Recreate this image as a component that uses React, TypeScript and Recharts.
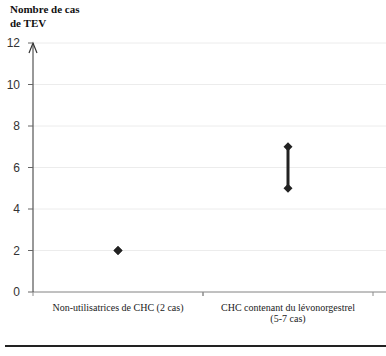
import {
  ComposedChart,
  Bar,
  Line,
  XAxis,
  YAxis,
  CartesianGrid,
  ReferenceLine,
} from 'recharts';

// Catégories et valeurs
const categories = ['Non-utilisatrices de CHC (2 cas)', 'CHC contenant du lévonorgestrel (5-7 cas)'];
const categoryLines = [
  ['Non-utilisatrices de CHC (2 cas)'],
  ['CHC contenant du lévonorgestrel', '(5-7 cas)'],
];
const lowValues = [2, 5];
const highValues = [2, 7];
const yTicks = [0, 2, 4, 6, 8, 10, 12];

const data = categories.map((name, i) => ({
  name,
  low: lowValues[i],
  high: highValues[i],
  range: [lowValues[i], highValues[i]],
}));

const INK = '#222';
const SERIF = 'Liberation Serif, Times New Roman, Times, serif';
const EXTRA_RIGHT = 13;

const Diamond = (props: any) => {
  const { cx, cy } = props;
  if (cx == null || cy == null) return null;
  const r = 4.5;
  return (
    <path
      d={`M${cx},${cy - r} L${cx + r},${cy} L${cx},${cy + r} L${cx - r},${cy} Z`}
      fill={INK}
    />
  );
};

const RangeShape = (props: any) => {
  const { x, y, width, height } = props;
  if (!height) return null;
  const cx = x + width / 2;
  return <line x1={cx} x2={cx} y1={y} y2={y + height} stroke={INK} strokeWidth={3} />;
};

const XTick = (props: any) => {
  const { x, y, payload } = props;
  const half = payload.offset || 0;
  const lines = categoryLines[payload.index] || [payload.value];
  return (
    <g>
      <line x1={x - half} x2={x - half} y1={y} y2={y + 4} stroke="#8c8c8c" />
      <line x1={x + half} x2={x + half} y1={y} y2={y + 4} stroke="#8c8c8c" />
      <text x={x} y={y + 19} textAnchor="middle" style={{ fontFamily: SERIF }} fontSize={10} fill={INK}>
        {lines.map((l: string, i: number) => (
          <tspan key={i} x={x} dy={i === 0 ? 0 : 11}>
            {l}
          </tspan>
        ))}
      </text>
    </g>
  );
};

export default function App() {
  return (
    <div style={{ position: 'absolute', left: 0, top: 0, width: 386, height: 356, background: '#fff' }}>
      <div
        style={{
          position: 'absolute',
          left: 10,
          top: 2,
          fontFamily: SERIF,
          fontWeight: 'bold',
          fontSize: 11,
          lineHeight: '14px',
          color: '#111',
        }}
      >
        Nombre de cas
        <br />
        de TEV
      </div>
      <ComposedChart
        width={386}
        height={356}
        data={data}
        margin={{ top: 43, right: EXTRA_RIGHT, left: 0, bottom: 34 }}
      >
        <CartesianGrid
          vertical={false}
          horizontal={(p: any) => (
            <line key={p.key} x1={p.x1} x2={p.x2 + EXTRA_RIGHT} y1={p.y1} y2={p.y2} stroke="#ececec" />
          )}
        />
        <XAxis
          dataKey="name"
          axisLine={false}
          tickLine={false}
          tickSize={0}
          tickMargin={0}
          height={30}
          interval={0}
          tick={<XTick />}
        />
        <YAxis
          domain={[0, 12]}
          ticks={yTicks}
          width={33}
          tickSize={5}
          tickMargin={8}
          axisLine={{ stroke: '#333' }}
          tickLine={{ stroke: '#666' }}
          tick={{ fontSize: 12, fill: '#333', fontFamily: 'Liberation Sans, Arial, sans-serif' }}
        />
        <ReferenceLine
          y={0}
          shape={(p: any) => (
            <line x1={p.x1} x2={p.x2 + EXTRA_RIGHT} y1={p.y1} y2={p.y2} stroke="#8c8c8c" />
          )}
        />
        <ReferenceLine
          y={12}
          shape={(p: any) => (
            <polyline
              points={`${p.x1 - 4},${p.y1 + 10} ${p.x1},${p.y1} ${p.x1 + 4},${p.y1 + 10}`}
              fill="none"
              stroke="#333"
              strokeWidth={1.2}
            />
          )}
        />
        <Bar dataKey="range" barSize={6} shape={<RangeShape />} isAnimationActive={false} />
        <Line dataKey="low" stroke="none" dot={<Diamond />} activeDot={false} isAnimationActive={false} />
        <Line dataKey="high" stroke="none" dot={<Diamond />} activeDot={false} isAnimationActive={false} />
      </ComposedChart>
      <div style={{ position: 'absolute', left: 5, top: 345, width: 381, height: 2, background: INK }} />
    </div>
  );
}
